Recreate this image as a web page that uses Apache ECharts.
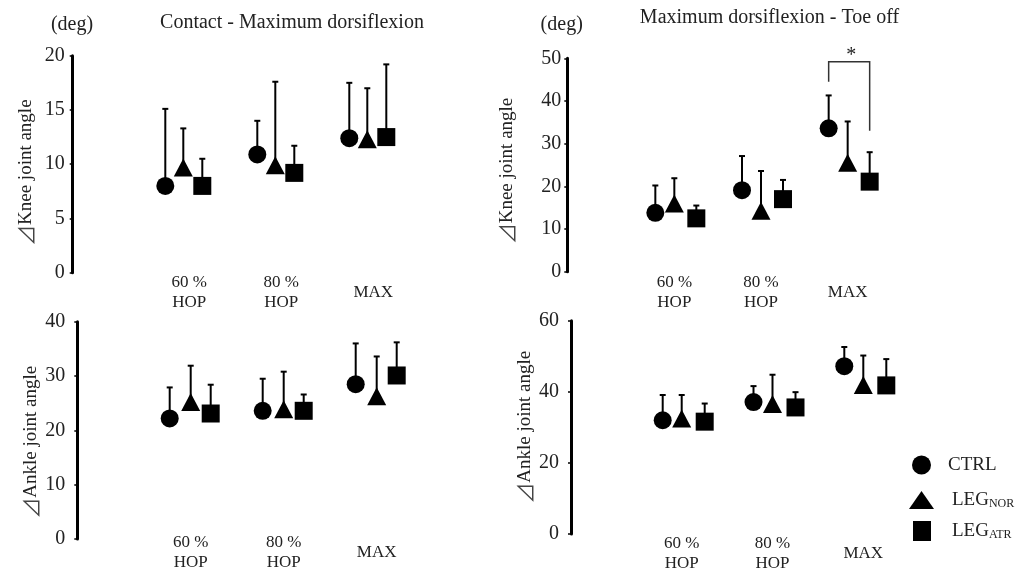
<!DOCTYPE html>
<html><head><meta charset="utf-8">
<script src="https://cdn.jsdelivr.net/npm/echarts@6/dist/echarts.min.js"></script>
<style>html,body{margin:0;padding:0;background:#fff}#c{width:1020px;height:574px}</style>
</head><body><div id="c"></div>
<script>
// ---------- DATA ----------
const categories = ['60 %\nHOP', '80 %\nHOP', 'MAX'];
const seriesNames = ['CTRL', 'LEG_NOR', 'LEG_ATR'];

// Knee joint angle, Contact - Maximum dorsiflexion (deg)
const kneeContactCtrlMean = [8.0, 10.9, 12.4];
const kneeContactCtrlSD   = [7.1, 3.1, 5.1];
const kneeContactNorMean  = [9.7, 9.9, 12.3];
const kneeContactNorSD    = [3.6, 7.7, 4.7];
const kneeContactAtrMean  = [8.0, 9.2, 12.5];
const kneeContactAtrSD    = [2.5, 2.5, 6.7];
const kneeContactTicks    = [0, 5, 10, 15, 20];

// Knee joint angle, Maximum dorsiflexion - Toe off (deg)
const kneeToeOffCtrlMean = [13.8, 19.1, 33.6];
const kneeToeOffCtrlSD   = [6.4, 8.0, 7.7];
const kneeToeOffNorMean  = [16.0, 14.3, 25.5];
const kneeToeOffNorSD    = [5.9, 9.3, 9.7];
const kneeToeOffAtrMean  = [12.5, 17.0, 21.1];
const kneeToeOffAtrSD    = [3.0, 4.5, 6.9];
const kneeToeOffTicks    = [0, 10, 20, 30, 40, 50];

// Ankle joint angle, Contact - Maximum dorsiflexion (deg)
const ankleContactCtrlMean = [22.2, 23.6, 28.5];
const ankleContactCtrlSD   = [5.7, 5.9, 7.5];
const ankleContactNorMean  = [25.2, 23.9, 26.3];
const ankleContactNorSD    = [6.7, 6.9, 7.3];
const ankleContactAtrMean  = [23.1, 23.6, 30.1];
const ankleContactAtrSD    = [5.3, 3.0, 6.1];
const ankleContactTicks    = [0, 10, 20, 30, 40];

// Ankle joint angle, Maximum dorsiflexion - Toe off (deg)
const ankleToeOffCtrlMean = [32.0, 37.1, 47.2];
const ankleToeOffCtrlSD   = [7.1, 4.5, 5.4];
const ankleToeOffNorMean  = [32.5, 36.6, 41.9];
const ankleToeOffNorSD    = [6.6, 8.2, 8.3];
const ankleToeOffAtrMean  = [31.6, 35.6, 41.8];
const ankleToeOffAtrSD    = [5.1, 4.3, 7.4];
const ankleToeOffTicks    = [0, 20, 40, 60];

// Significance bracket (knee, toe off, MAX): [category, left leg end, top, right leg end]
const sigBracket = [2, 44.5, 49.2, 33.0];
const sigLabel = '*';

const titles = ['Contact - Maximum dorsiflexion', 'Maximum dorsiflexion - Toe off'];
const unitLabel = '(deg)';
const kneeAxisName = '\u22BFKnee joint angle';
const ankleAxisName = '\u22BFAnkle joint angle';

// ---------- LAYOUT ----------
const FONT = '"Liberation Serif", "Times New Roman", serif';
const TXT = '#222';
const symbols = ['circle', 'triangle', 'rect'];
const symbolSizes = [18, [19, 18], 18];

const panels = [
  { grid: {left: 137.3, top: 55.7, width: 276, height: 217}, offset: 64.6,
    name: kneeAxisName, nameGap: 36, namePad: [0, 17, 0, 0], labelMargin: 8,
    catMargin: 20, catPad: [0, 0, 0, 12], dx: [-18, 0, 19], ticks: kneeContactTicks,
    mean: [kneeContactCtrlMean, kneeContactNorMean, kneeContactAtrMean],
    sd: [kneeContactCtrlSD, kneeContactNorSD, kneeContactAtrSD] },
  { grid: {left: 631, top: 58.3, width: 260, height: 213.4}, offset: 63.7,
    name: kneeAxisName, nameGap: 49, namePad: [0, 12, 0, 0], labelMargin: 6,
    catMargin: 21, catPad: [0, 0, 0, 0], dx: [-19, 0, 22], ticks: kneeToeOffTicks,
    mean: [kneeToeOffCtrlMean, kneeToeOffNorMean, kneeToeOffAtrMean],
    sd: [kneeToeOffCtrlSD, kneeToeOffNorSD, kneeToeOffAtrSD] },
  { grid: {left: 144.2, top: 321.7, width: 279, height: 217.3}, offset: 66.9,
    name: ankleAxisName, nameGap: 35, namePad: [0, 24, 0, 0], labelMargin: 12,
    catMargin: 14, catPad: [0, 0, 0, 0], dx: [-21, 0, 20], ticks: ankleContactTicks,
    mean: [ankleContactCtrlMean, ankleContactNorMean, ankleContactAtrMean],
    sd: [ankleContactCtrlSD, ankleContactNorSD, ankleContactAtrSD] },
  { grid: {left: 636.3, top: 320.7, width: 272.4, height: 215}, offset: 65.3,
    name: ankleAxisName, nameGap: 31, namePad: [0, 0, 0, 0], labelMargin: 12,
    catMargin: 20, catPad: [0, 0, 0, 0], dx: [-19, 0, 23], ticks: ankleToeOffTicks,
    mean: [ankleToeOffCtrlMean, ankleToeOffNorMean, ankleToeOffAtrMean],
    sd: [ankleToeOffCtrlSD, ankleToeOffNorSD, ankleToeOffAtrSD] }
];

function errRender(dx) {
  return function (params, api) {
    const x = api.value(0), m = api.value(1), s = api.value(2);
    const p0 = api.coord([x, m]);
    const p1 = api.coord([x, m + s]);
    const cx = p0[0] + dx;
    return { type: 'group', children: [
      { type: 'line', shape: {x1: cx, y1: p0[1], x2: cx, y2: p1[1]}, style: {stroke: '#000', lineWidth: 2} },
      { type: 'line', shape: {x1: cx - 3, y1: p1[1], x2: cx + 3, y2: p1[1]}, style: {stroke: '#000', lineWidth: 2} }
    ]};
  };
}

// Axis name: delta glyph drawn in a CJK font (thin outline right triangle)
function nameRich(n) {
  return '{d|' + n.charAt(0) + '}{t|' + n.slice(1) + '}';
}

const grids = [], xAxes = [], yAxes = [], series = [];
panels.forEach((p, i) => {
  grids.push(Object.assign({containLabel: false}, p.grid));
  xAxes.push({
    type: 'category', gridIndex: i, data: categories, boundaryGap: true,
    axisLine: {show: false}, axisTick: {show: false}, splitLine: {show: false},
    axisLabel: {interval: 0, margin: p.catMargin, verticalAlign: 'middle', lineHeight: 20,
      fontSize: 17, fontFamily: FONT, color: TXT, padding: p.catPad}
  });
  const t = p.ticks;
  yAxes.push({
    type: 'value', gridIndex: i, min: t[0], max: t[t.length - 1], interval: t[1] - t[0],
    offset: p.offset,
    axisLine: {show: true, lineStyle: {color: '#000', width: 3}},
    axisTick: {show: true, length: 3, lineStyle: {color: '#000', width: 1.5}},
    splitLine: {show: false},
    axisLabel: {fontSize: 20, fontFamily: FONT, color: TXT, margin: p.labelMargin},
    name: nameRich(p.name), nameLocation: 'middle', nameRotate: 90, nameGap: p.nameGap,
    nameTextStyle: {fontSize: 19, fontFamily: FONT, color: TXT, padding: p.namePad,
      rich: {
        d: {fontSize: 21, fontFamily: '"Noto Sans CJK JP", "DejaVu Sans", sans-serif', color: '#444', lineHeight: 22},
        t: {fontSize: 19, fontFamily: FONT, color: TXT, lineHeight: 22}
      }}
  });
  for (let k = 0; k < 3; k++) {
    series.push({
      type: 'custom', xAxisIndex: i, yAxisIndex: i, silent: true, z: 2,
      renderItem: errRender(p.dx[k]),
      data: p.mean[k].map((m, j) => [j, m, p.sd[k][j]])
    });
    series.push({
      type: 'scatter', name: seriesNames[k], xAxisIndex: i, yAxisIndex: i, z: 3,
      symbol: symbols[k], symbolSize: symbolSizes[k], symbolOffset: [p.dx[k], 0],
      itemStyle: {color: '#000', opacity: 1}, emphasis: {disabled: true},
      data: p.mean[k].map((m, j) => [j, m])
    });
  }
});

// significance bracket on knee toe-off panel
series.push({
  type: 'custom', xAxisIndex: 1, yAxisIndex: 1, silent: true, z: 4,
  data: [sigBracket],
  renderItem: function (params, api) {
    const c = api.value(0);
    const pL = api.coord([c, api.value(1)]);
    const pT = api.coord([c, api.value(2)]);
    const pR = api.coord([c, api.value(3)]);
    const xl = pL[0] + panels[1].dx[0], xr = pL[0] + panels[1].dx[2];
    return { type: 'group', children: [
      { type: 'polyline', shape: {points: [[xl, pL[1]], [xl, pT[1]], [xr, pT[1]], [xr, pR[1]]]},
        style: {stroke: '#333', lineWidth: 1.5, fill: null} },
      { type: 'text', x: (xl + xr) / 2 + 2, y: pT[1] - 6,
        style: {text: sigLabel, fontSize: 20, fontFamily: FONT, fill: TXT, align: 'center', verticalAlign: 'middle'} }
    ]};
  }
});

const legendText = {
  fontSize: 19, fontFamily: FONT, color: TXT, lineHeight: 20,
  rich: {
    m: {fontSize: 19, fontFamily: FONT, color: TXT, lineHeight: 20},
    s: {fontSize: 12, fontFamily: FONT, color: TXT, lineHeight: 12, verticalAlign: 'bottom'}
  }
};
function legendFmt(n) {
  const parts = n.split('_');
  return parts.length > 1 ? '{m|' + parts[0] + '}{s|' + parts[1] + '}' : '{m|' + n + '}';
}
const legendPos = [
  {left: 912, top: 455, w: 19, h: 19, pad: 12},
  {left: 909, top: 490, w: 25, h: 18, pad: 13},
  {left: 913, top: 521, w: 18, h: 20, pad: 16}
];
const legends = seriesNames.map((n, k) => ({
  data: [{name: n, icon: symbols[k]}], orient: 'vertical',
  left: legendPos[k].left, top: legendPos[k].top, padding: 0,
  itemWidth: legendPos[k].w, itemHeight: legendPos[k].h, selectedMode: false,
  formatter: legendFmt,
  textStyle: Object.assign({padding: [0, 0, 0, legendPos[k].pad]}, legendText),
  itemStyle: {color: '#000'}
}));

function txt(x, y, text) {
  return {type: 'text', x: x, y: y, silent: true,
    style: {text: text, fontSize: 20, fontFamily: FONT, fill: TXT, align: 'center', verticalAlign: 'middle'}};
}

const chart = echarts.init(document.getElementById('c'), null, {renderer: 'canvas'});
chart.setOption({
  animation: false,
  backgroundColor: '#fff',
  grid: grids, xAxis: xAxes, yAxis: yAxes, series: series,
  legend: legends,
  graphic: [
    txt(292, 22.5, titles[0]),
    txt(769.5, 17.5, titles[1]),
    txt(72, 25, unitLabel),
    txt(561.7, 25, unitLabel)
  ]
});
</script></body></html>
